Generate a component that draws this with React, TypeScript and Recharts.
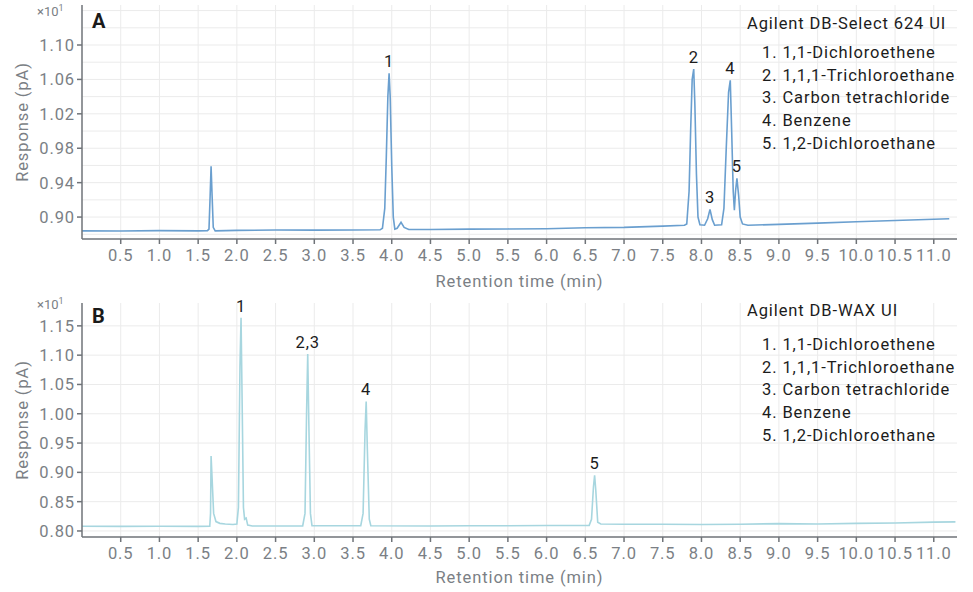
import React from "react";
import {
  LineChart,
  Line,
  XAxis,
  YAxis,
  CartesianGrid,
  ReferenceDot,
} from "recharts";

// retention time (min), response (pA x10) — column A (DB-Select 624 UI)
const baselineA: [number, number][] = [
  [0.0, 0.884], [0.5, 0.8838], [1.0, 0.8842], [1.5, 0.884], [1.62, 0.8842],
  [2.0, 0.8845], [2.5, 0.885], [3.0, 0.8848], [3.5, 0.885], [3.85, 0.8852],
  [4.5, 0.8855], [5.0, 0.886], [5.5, 0.8862], [6.0, 0.8865], [6.5, 0.8875],
  [7.0, 0.888], [7.5, 0.8895], [7.78, 0.8905],
  [9.0, 0.8915], [9.5, 0.893], [10.0, 0.8945], [10.5, 0.896], [11.0, 0.8975], [11.2, 0.898],
];
const peaksA: [number, number][] = [
  [1.64, 0.886], [1.655, 0.925], [1.667, 0.959], [1.68, 0.925], [1.695, 0.888], [1.72, 0.884],
  [3.88, 0.887], [3.91, 0.91], [3.93, 0.97], [3.95, 1.04], [3.966, 1.067], [3.98, 1.04],
  [4.0, 0.96], [4.02, 0.9], [4.04, 0.886], [4.07, 0.887], [4.12, 0.894], [4.16, 0.888], [4.22, 0.8855],
  [7.81, 0.892], [7.84, 0.93], [7.86, 1.0], [7.88, 1.06], [7.9, 1.072], [7.915, 1.03],
  [7.935, 0.95], [7.955, 0.9], [7.98, 0.891], [8.04, 0.8905],
  [8.08, 0.898], [8.11, 0.909], [8.14, 0.897], [8.17, 0.8905], [8.26, 0.891],
  [8.29, 0.91], [8.32, 0.98], [8.35, 1.045], [8.372, 1.059], [8.39, 1.0], [8.41, 0.93],
  [8.425, 0.908], [8.44, 0.93], [8.458, 0.945], [8.48, 0.925], [8.5, 0.9], [8.53, 0.892], [8.6, 0.8905],
];

// column B (DB-WAX UI)
const baselineB: [number, number][] = [
  [0.0, 0.808], [0.5, 0.8078], [1.0, 0.808], [1.5, 0.8078], [1.65, 0.808],
  [2.5, 0.8085], [2.85, 0.8085], [3.3, 0.809], [3.6, 0.809],
  [4.5, 0.8085], [5.0, 0.8088], [5.5, 0.809], [6.0, 0.8092], [6.55, 0.8095],
  [7.0, 0.8115], [7.5, 0.8115], [8.0, 0.811], [8.5, 0.8115], [9.0, 0.8125],
  [9.5, 0.812], [10.0, 0.813], [10.5, 0.8135], [11.0, 0.815], [11.28, 0.8155],
];
const peaksB: [number, number][] = [
  [1.66, 0.83], [1.667, 0.928], [1.68, 0.89], [1.7, 0.83], [1.73, 0.816], [1.78, 0.813],
  [1.85, 0.812], [1.95, 0.811], [2.0, 0.812],
  [2.02, 0.84], [2.04, 1.08], [2.054, 1.164], [2.07, 1.0], [2.085, 0.84], [2.1, 0.82],
  [2.12, 0.822], [2.14, 0.81], [2.2, 0.8085],
  [2.88, 0.83], [2.9, 1.0], [2.915, 1.102], [2.93, 0.98], [2.95, 0.83], [2.97, 0.809],
  [3.63, 0.83], [3.655, 0.97], [3.67, 1.021], [3.685, 0.94], [3.71, 0.82], [3.73, 0.809],
  [6.58, 0.82], [6.605, 0.875], [6.62, 0.895], [6.635, 0.87], [6.66, 0.815], [6.7, 0.812],
];

const peakLabelsA = [
  { t: 3.966, v: 1.067, text: "1" },
  { t: 7.9, v: 1.072, text: "2" },
  { t: 8.11, v: 0.909, text: "3" },
  { t: 8.372, v: 1.059, text: "4" },
  { t: 8.458, v: 0.945, text: "5" },
];
const peakLabelsB = [
  { t: 2.054, v: 1.164, text: "1" },
  { t: 2.915, v: 1.102, text: "2,3" },
  { t: 3.67, v: 1.021, text: "4" },
  { t: 6.62, v: 0.895, text: "5" },
];

const compounds = [
  "1. 1,1-Dichloroethene",
  "2. 1,1,1-Trichloroethane",
  "3. Carbon tetrachloride",
  "4. Benzene",
  "5. 1,2-Dichloroethane",
];

const xTicks = [0.5, 1, 1.5, 2, 2.5, 3, 3.5, 4, 4.5, 5, 5.5, 6, 6.5, 7, 7.5, 8, 8.5, 9, 9.5, 10, 10.5, 11];
const yTicksA = [0.9, 0.94, 0.98, 1.02, 1.06, 1.1];
const yGridA = [0.88, 0.9, 0.92, 0.94, 0.96, 0.98, 1.0, 1.02, 1.04, 1.06, 1.08, 1.1, 1.12, 1.14];
const yTicksB = [0.8, 0.85, 0.9, 0.95, 1.0, 1.05, 1.1, 1.15];

const toRows = (...parts: [number, number][][]) =>
  parts
    .flat()
    .map(([t, v]) => ({ t, v }))
    .sort((a, b) => a.t - b.t);

const dataA = toRows(baselineA, peaksA);
const dataB = toRows(baselineB, peaksB);

const axisColor = "#6f7378";
const grey = "#7b7f85";
const textColor = "#1c1c1c";
const font = { fontSize: 16.5, fontFamily: "Roboto", letterSpacing: 0.9 };
const tickStyle = { fill: grey, ...font };

function Panel({
  data,
  color,
  yDomain,
  yTicks,
  yGrid,
  labels,
  top,
  xHeight,
}: {
  data: { t: number; v: number }[];
  color: string;
  yDomain: [number, number];
  yTicks: number[];
  yGrid: number[];
  labels: { t: number; v: number; text: string }[];
  top: number;
  xHeight: number;
}) {
  return (
    <LineChart
      width={973}
      height={296}
      data={data}
      margin={{ top, right: 16, bottom: 0, left: 0 }}
    >
      <CartesianGrid stroke="#ebebeb" horizontalValues={yGrid} verticalValues={xTicks} />
      <XAxis
        dataKey="t"
        type="number"
        domain={[0, 11.3]}
        ticks={xTicks}
        interval={0}
        tickFormatter={(v: number) => v.toFixed(1)}
        height={xHeight}
        stroke={axisColor}
        strokeWidth={1.5}
        tick={tickStyle}
        tickSize={5}
        tickMargin={5}
        allowDataOverflow
        label={{
          value: "Retention time (min)",
          position: "insideBottom",
          offset: 9,
          style: { fill: grey, ...font },
        }}
      />
      <YAxis
        type="number"
        domain={yDomain}
        ticks={yTicks}
        interval={0}
        tickFormatter={(v: number) => v.toFixed(2)}
        width={82}
        stroke={axisColor}
        strokeWidth={1.5}
        tick={tickStyle}
        tickSize={5}
        tickMargin={2}
        allowDataOverflow
        label={{
          value: "Response (pA)",
          angle: -90,
          position: "insideLeft",
          offset: 22,
          style: { textAnchor: "middle", fill: grey, ...font },
        }}
      />
      <Line
        type="linear"
        dataKey="v"
        stroke={color}
        strokeWidth={1.6}
        dot={false}
        isAnimationActive={false}
      />
      {labels.map((p) => (
        <ReferenceDot
          key={p.text}
          x={p.t}
          y={p.v}
          r={0}
          fill="none"
          stroke="none"
          label={{
            value: p.text,
            position: "top",
            offset: 6,
            style: { fill: textColor, ...font },
          }}
        />
      ))}
    </LineChart>
  );
}

function Legend({ title, top, gap }: { title: string; top: number; gap: number }) {
  const base = {
    position: "absolute" as const,
    fontSize: 16.5,
    letterSpacing: 0.9,
    lineHeight: "22px",
    color: textColor,
    whiteSpace: "nowrap" as const,
  };
  return (
    <>
      <div style={{ ...base, left: 747, top }}>{title}</div>
      {compounds.map((c, i) => (
        <div key={c} style={{ ...base, left: 762, top: top + gap + i * 22.7 }}>
          {c}
        </div>
      ))}
    </>
  );
}

export default function App() {
  const small = { position: "absolute" as const, left: 37, fontSize: 13, color: grey, lineHeight: "14px" };
  const letter = {
    position: "absolute" as const,
    left: 92,
    fontSize: 20,
    fontWeight: 700,
    color: "#1a1a1a",
    lineHeight: "22px",
  };
  return (
    <div
      style={{
        position: "absolute",
        left: 0,
        top: 0,
        width: 973,
        height: 592,
        background: "#fff",
        fontFamily: "Roboto",
      }}
    >
      <div style={{ position: "absolute", left: 0, top: 0 }}>
        <Panel
          data={dataA}
          color="#6a9fcf"
          yDomain={[0.8745, 1.1465]}
          yTicks={yTicksA}
          yGrid={yGridA}
          labels={peakLabelsA}
          top={5}
          xHeight={57}
        />
      </div>
      <div style={{ position: "absolute", left: 0, top: 296 }}>
        <Panel
          data={dataB}
          color="#a7d6df"
          yDomain={[0.7897, 1.189]}
          yTicks={yTicksB}
          yGrid={yTicksB}
          labels={peakLabelsB}
          top={7}
          xHeight={55}
        />
      </div>
      <div style={{ ...small, top: 1 }}>
        ×10<sup style={{ fontSize: 9 }}>1</sup>
      </div>
      <div style={{ ...small, top: 294 }}>
        ×10<sup style={{ fontSize: 9 }}>1</sup>
      </div>
      <div style={{ ...letter, top: 10 }}>A</div>
      <div style={{ ...letter, top: 305 }}>B</div>
      <Legend title="Agilent DB-Select 624 UI" top={13} gap={29} />
      <Legend title="Agilent DB-WAX UI" top={300} gap={34} />
    </div>
  );
}
